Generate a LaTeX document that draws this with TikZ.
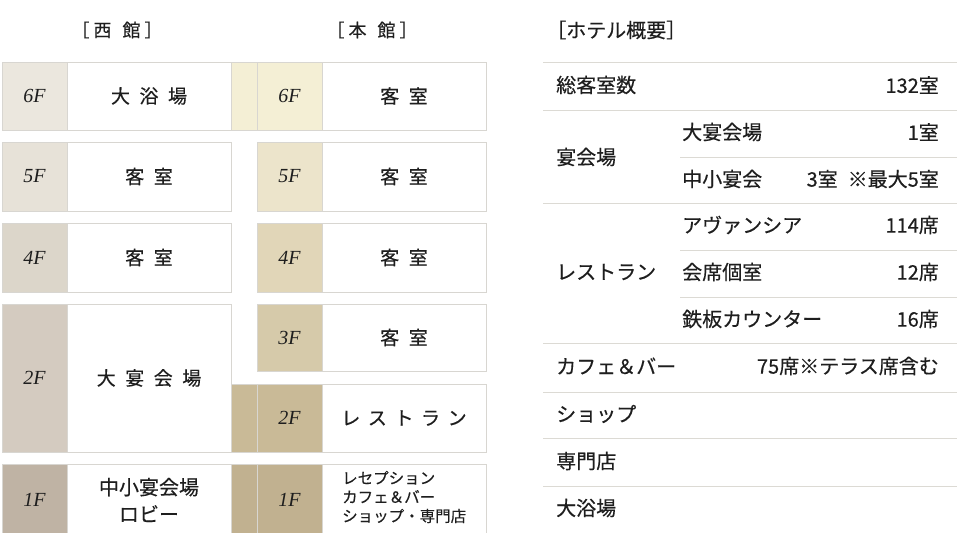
\documentclass[tikz,border=0pt]{standalone}
\usepackage{fontspec}
\setmainfont{Liberation Serif}
\newfontfamily\jp[FakeBold=0.4]{Noto Sans CJK JP}
\usepackage{tikz}

\definecolor{cellline}{HTML}{D8D6D1}
\definecolor{tblline}{HTML}{DCDAD4}
\definecolor{inkc}{HTML}{1E1E1E}
% west building floor colours
\definecolor{wsix}{HTML}{EBE7DE}
\definecolor{wfive}{HTML}{E7E2D8}
\definecolor{wfour}{HTML}{DCD6CA}
\definecolor{wtwo}{HTML}{D4CBC0}
\definecolor{wone}{HTML}{BFB3A4}
% main building floor colours
\definecolor{msix}{HTML}{F4EFD5}
\definecolor{mfive}{HTML}{ECE4CB}
\definecolor{mfour}{HTML}{E1D6B8}
\definecolor{mthree}{HTML}{D6CAAA}
\definecolor{mtwo}{HTML}{C9BA97}
\definecolor{mone}{HTML}{C1B190}

\newcommand{\gap}{\hspace{0.5em}}

\tikzset{
  cell/.style={draw=cellline, line width=0.7pt, anchor=north west,
    inner sep=0pt, outer sep=0pt, text=inkc},
  flr/.style={cell, minimum width=65pt, font=\itshape\fontsize{20}{24}\selectfont},
  stub/.style={cell, minimum width=26pt},
  room/.style={cell, fill=white, minimum width=164pt, font=\jp\fontsize{19}{23}\selectfont},
  head/.style={font=\jp\fontsize{18}{22}\selectfont, text=inkc, inner sep=0pt},
  tbl/.style={font=\jp\fontsize{20}{24}\selectfont, text=inkc, inner sep=0pt},
  tblrule/.style={draw=tblline, line width=0.9pt}
}

\begin{document}
\begin{tikzpicture}[x=1pt, y=-1pt]
\useasboundingbox (0,0) rectangle (957,532);
\clip (0,0) rectangle (957,532);

% headings
\node[head] (hwest) at (117,30) {［\hspace{4pt}西\hspace{11pt}館\hspace{4pt}］};
\node[head] (hmain) at (372,30) {［\hspace{4pt}本\hspace{11pt}館\hspace{4pt}］};
\node[head, anchor=west, font=\jp\fontsize{20}{24}\selectfont] (hinfo) at (546,30) {［ホテル概要］};

% west building
\node[flr, fill=wsix, minimum height=68pt] (w6f) at (2,62) {6F};
\node[room, minimum height=68pt] (w6r) at (w6f.north east) {大\gap 浴\gap 場};
\node[flr, fill=wfive, minimum height=69pt] (w5f) at (2,142) {5F};
\node[room, minimum height=69pt] (w5r) at (w5f.north east) {客\gap 室};
\node[flr, fill=wfour, minimum height=69pt] (w4f) at (2,223) {4F};
\node[room, minimum height=69pt] (w4r) at (w4f.north east) {客\gap 室};
\node[flr, fill=wtwo, minimum height=148pt] (w2f) at (2,304) {2F};
\node[room, minimum height=148pt] (w2r) at (w2f.north east) {大\gap 宴\gap 会\gap 場};
\node[flr, fill=wone, minimum height=72pt] (w1f) at (2,464) {1F};
\node[room, minimum height=72pt, align=center, font=\jp\fontsize{20}{27}\selectfont]
  (w1r) at (w1f.north east) {中小宴会場\\ロビー};

% main building
\node[stub, fill=msix, minimum height=68pt] (m6s) at (231,62) {};
\node[flr, fill=msix, minimum height=68pt] (m6f) at (m6s.north east) {6F};
\node[room, minimum height=68pt] (m6r) at (m6f.north east) {客\gap 室};
\node[flr, fill=mfive, minimum height=69pt] (m5f) at (257,142) {5F};
\node[room, minimum height=69pt] (m5r) at (m5f.north east) {客\gap 室};
\node[flr, fill=mfour, minimum height=69pt] (m4f) at (257,223) {4F};
\node[room, minimum height=69pt] (m4r) at (m4f.north east) {客\gap 室};
\node[flr, fill=mthree, minimum height=67pt] (m3f) at (257,304) {3F};
\node[room, minimum height=67pt] (m3r) at (m3f.north east) {客\gap 室};
\node[stub, fill=mtwo, minimum height=68pt] (m2s) at (231,384) {};
\node[flr, fill=mtwo, minimum height=68pt] (m2f) at (m2s.north east) {2F};
\node[room, minimum height=68pt] (m2r) at (m2f.north east)
  {レ\hspace{0.4em}ス\hspace{0.4em}ト\hspace{0.4em}ラ\hspace{0.4em}ン};
\node[stub, fill=mone, minimum height=72pt] (m1s) at (231,464) {};
\node[flr, fill=mone, minimum height=72pt] (m1f) at (m1s.north east) {1F};
\node[room, minimum height=72pt] (m1r) at (m1f.north east) {};
\node[tbl, anchor=west, align=left, font=\jp\fontsize{15.5}{19}\selectfont]
  (m1t) at (342,497) {レセプション\\カフェ＆バー\\ショップ・専門店};

% hotel outline table
\foreach \y in {62,110,203,343,392,438,486}
  \draw[tblrule] (543,\y) -- (957,\y);
\foreach \y in {157,250,297}
  \draw[tblrule] (680,\y) -- (957,\y);

\node[tbl, anchor=west] (rooms) at (556,85) {総客室数};
\node[tbl, anchor=east] (roomsn) at (939,85) {132室};
\node[tbl, anchor=west] (hall) at (556,157) {宴会場};
\node[tbl, anchor=west] (hallbig) at (682,132) {大宴会場};
\node[tbl, anchor=east] (hallbign) at (939,132) {1室};
\node[tbl, anchor=west] (hallsm) at (682,179) {中小宴会};
\node[tbl, anchor=east] (hallsmn) at (939,179) {3室\hspace{10pt}※最大5室};
\node[tbl, anchor=west] (rest) at (556,272) {レストラン};
\node[tbl, anchor=west] (resta) at (682,225) {アヴァンシア};
\node[tbl, anchor=east] (restan) at (939,225) {114席};
\node[tbl, anchor=west] (restb) at (682,272) {会席個室};
\node[tbl, anchor=east] (restbn) at (939,272) {12席};
\node[tbl, anchor=west] (restc) at (682,319) {鉄板カウンター};
\node[tbl, anchor=east] (restcn) at (939,319) {16席};
\node[tbl, anchor=west] (cafe) at (556,366) {カフェ＆バー};
\node[tbl, anchor=east] (cafen) at (939,366) {75席※テラス席含む};
\node[tbl, anchor=west] (shop) at (556,414) {ショップ};
\node[tbl, anchor=west] (spec) at (556,461) {専門店};
\node[tbl, anchor=west] (bath) at (556,508) {大浴場};

\end{tikzpicture}
\end{document}
